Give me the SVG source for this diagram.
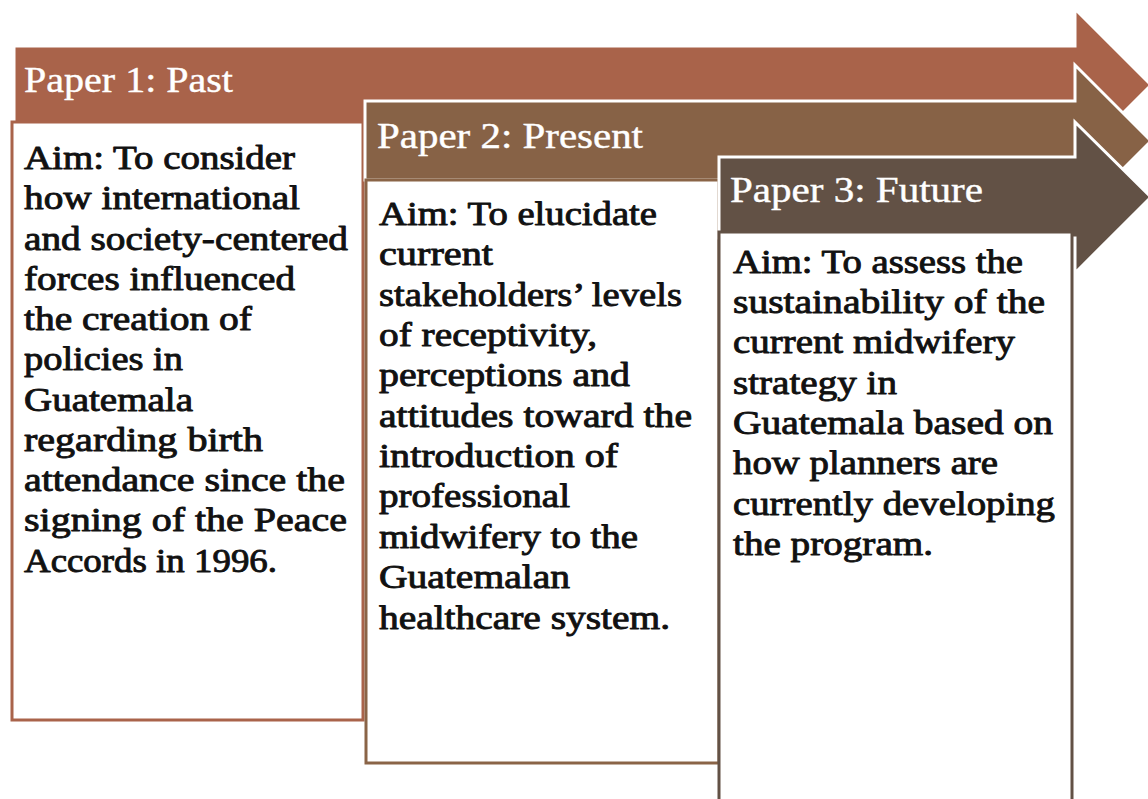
<svg xmlns="http://www.w3.org/2000/svg" width="1148" height="799" viewBox="0 0 1148 799">
  <style>
    .arrow { stroke: #ffffff; stroke-width: 3; stroke-linejoin: miter; }
    .a1 { fill: #a9634a; }
    .a2 { fill: #876246; }
    .a3 { fill: #625145; }
    .box { fill: #ffffff; stroke-width: 3; }
    .b1 { stroke: #a9634a; }
    .b2 { stroke: #8a6447; }
    .b3 { stroke: #625145; }
    .title { font-size: 35px; fill: #ffffff; stroke: #ffffff; stroke-width: 0.4; }
    .body { font-size: 33px; fill: #111111; stroke: #111111; stroke-width: 0.9; stroke-linejoin: round; }
  </style>

  <!-- Paper 1: Past -->
  <g id="paper1" font-family="Liberation Serif, serif">
    <polygon class="arrow a1" points="14,46 1075,46 1075,9 1151,85 1075,161 1075,124 14,124"/>
    <text class="title" x="24" y="92" textLength="209" lengthAdjust="spacingAndGlyphs">Paper 1: Past</text>
    <rect class="box b1" x="12" y="122" width="351" height="598"/>
    <g class="body">
      <text x="24" y="169" textLength="271" lengthAdjust="spacingAndGlyphs">Aim: To consider</text>
      <text x="24" y="209" textLength="276" lengthAdjust="spacingAndGlyphs">how international</text>
      <text x="24" y="249.5" textLength="324" lengthAdjust="spacingAndGlyphs">and society-centered</text>
      <text x="24" y="290" textLength="271" lengthAdjust="spacingAndGlyphs">forces influenced</text>
      <text x="24" y="330" textLength="228" lengthAdjust="spacingAndGlyphs">the creation of</text>
      <text x="24" y="370" textLength="159" lengthAdjust="spacingAndGlyphs">policies in</text>
      <text x="24" y="411" textLength="169" lengthAdjust="spacingAndGlyphs">Guatemala</text>
      <text x="24" y="451" textLength="239" lengthAdjust="spacingAndGlyphs">regarding birth</text>
      <text x="24" y="491" textLength="321" lengthAdjust="spacingAndGlyphs">attendance since the</text>
      <text x="24" y="531" textLength="323" lengthAdjust="spacingAndGlyphs">signing of the Peace</text>
      <text x="24" y="572" textLength="253" lengthAdjust="spacingAndGlyphs">Accords in 1996.</text>
    </g>
  </g>

  <!-- Paper 2: Present -->
  <g id="paper2" font-family="Liberation Serif, serif">
    <polygon class="arrow a2" points="365,101 1075,101 1075,65 1151,141 1075,217 1075,180 365,180"/>
    <text class="title" x="377" y="148" textLength="266" lengthAdjust="spacingAndGlyphs">Paper 2: Present</text>
    <rect class="box b2" x="366" y="180" width="353" height="583"/>
    <g class="body">
      <text x="379" y="225" textLength="278" lengthAdjust="spacingAndGlyphs">Aim: To elucidate</text>
      <text x="379" y="265" textLength="114" lengthAdjust="spacingAndGlyphs">current</text>
      <text x="379" y="306" textLength="303" lengthAdjust="spacingAndGlyphs">stakeholders’ levels</text>
      <text x="379" y="346" textLength="218" lengthAdjust="spacingAndGlyphs">of receptivity,</text>
      <text x="379" y="386" textLength="251" lengthAdjust="spacingAndGlyphs">perceptions and</text>
      <text x="379" y="427" textLength="313" lengthAdjust="spacingAndGlyphs">attitudes toward the</text>
      <text x="379" y="467" textLength="239" lengthAdjust="spacingAndGlyphs">introduction of</text>
      <text x="379" y="507" textLength="191" lengthAdjust="spacingAndGlyphs">professional</text>
      <text x="379" y="548" textLength="259" lengthAdjust="spacingAndGlyphs">midwifery to the</text>
      <text x="379" y="588" textLength="191" lengthAdjust="spacingAndGlyphs">Guatemalan</text>
      <text x="379" y="629" textLength="291" lengthAdjust="spacingAndGlyphs">healthcare system.</text>
    </g>
  </g>

  <!-- Paper 3: Future -->
  <g id="paper3" font-family="Liberation Serif, serif">
    <polygon class="arrow a3" points="719,157 1075,157 1075,122 1151,197 1075,273 1075,238 719,238"/>
    <text class="title" x="730" y="202" textLength="253" lengthAdjust="spacingAndGlyphs">Paper 3: Future</text>
    <rect class="box b3" x="719" y="232" width="353" height="580"/>
    <g class="body">
      <text x="733" y="273" textLength="290" lengthAdjust="spacingAndGlyphs">Aim: To assess the</text>
      <text x="733" y="313" textLength="312" lengthAdjust="spacingAndGlyphs">sustainability of the</text>
      <text x="733" y="353" textLength="282" lengthAdjust="spacingAndGlyphs">current midwifery</text>
      <text x="733" y="394" textLength="164" lengthAdjust="spacingAndGlyphs">strategy in</text>
      <text x="733" y="434" textLength="320" lengthAdjust="spacingAndGlyphs">Guatemala based on</text>
      <text x="733" y="474" textLength="265" lengthAdjust="spacingAndGlyphs">how planners are</text>
      <text x="733" y="515" textLength="322" lengthAdjust="spacingAndGlyphs">currently developing</text>
      <text x="733" y="555" textLength="200" lengthAdjust="spacingAndGlyphs">the program.</text>
    </g>
  </g>
</svg>
